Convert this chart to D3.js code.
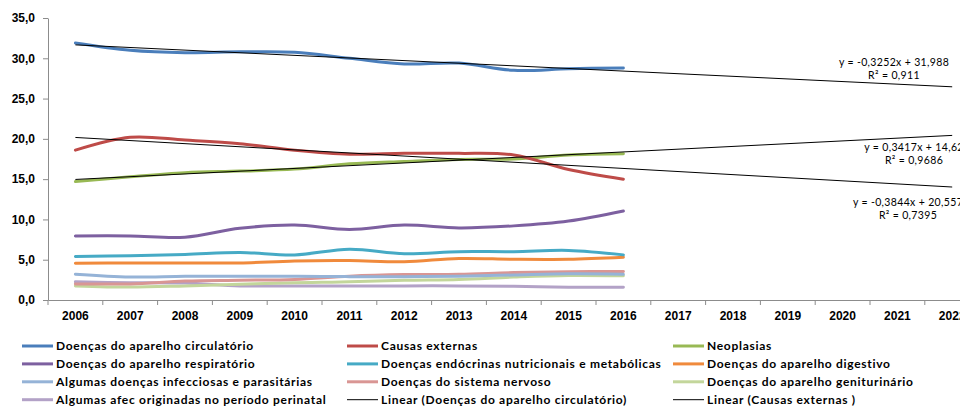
<!DOCTYPE html>
<html>
<head>
<meta charset="utf-8">
<script src="https://cdn.jsdelivr.net/npm/d3@7"></script>
<style>
    body { margin: 0; background: #fff; }
    svg { display: block; font-family: Lato, "Liberation Sans", sans-serif; }
</style>
</head>
<body>
<div id="chart-wrapper"></div>
<script>
// categories on the x axis (Excel extends them for the trend forecast)
const categories = ["2006","2007","2008","2009","2010","2011","2012","2013","2014","2015","2016",
                    "2017","2018","2019","2020","2021","2022"];
const dataYears = ["2006","2007","2008","2009","2010","2011","2012","2013","2014","2015","2016"];
const yTicks = [0, 5, 10, 15, 20, 25, 30, 35];

// series values
const circulatorio = [31.9, 31.0, 30.7, 30.8, 30.75, 30.0, 29.3, 29.4, 28.5, 28.7, 28.8];
const causasExternas = [18.6, 20.2, 19.85, 19.4, 18.6, 18.1, 18.2, 18.2, 18.0, 16.2, 15.0];
const neoplasias = [14.7, 15.3, 15.8, 16.0, 16.25, 16.9, 17.2, 17.45, 17.5, 18.0, 18.15];
const respiratorio = [7.95, 7.95, 7.8, 8.9, 9.3, 8.75, 9.3, 8.95, 9.2, 9.8, 11.05];
const endocrinas = [5.4, 5.5, 5.65, 5.9, 5.6, 6.3, 5.75, 6.0, 6.0, 6.15, 5.6];
const digestivo = [4.55, 4.6, 4.6, 4.6, 4.85, 4.9, 4.75, 5.15, 5.05, 5.05, 5.3];
const infecciosas = [3.2, 2.85, 2.95, 2.95, 2.95, 2.9, 2.9, 2.95, 3.1, 3.25, 3.2];
const nervoso = [2.0, 2.0, 2.35, 2.45, 2.55, 2.95, 3.15, 3.2, 3.4, 3.5, 3.55];
const geniturinario = [1.75, 1.6, 1.75, 1.95, 2.15, 2.25, 2.45, 2.55, 2.85, 3.05, 3.0];
const perinatal = [2.25, 2.15, 2.1, 1.75, 1.75, 1.75, 1.75, 1.75, 1.7, 1.58, 1.58];

const seriesNames = [
    "Doenças do aparelho circulatório", "Causas externas", "Neoplasias",
    "Doenças do aparelho respiratório", "Doenças endócrinas nutricionais  e metabólicas", "Doenças do aparelho digestivo",
    "Algumas doenças infecciosas e parasitárias", "Doenças do sistema nervoso", "Doenças do aparelho geniturinário",
    "Algumas afec originadas no período perinatal"
];
const seriesValues = [circulatorio, causasExternas, neoplasias, respiratorio, endocrinas,
                      digestivo, infecciosas, nervoso, geniturinario, perinatal];
const seriesColors = ["#4a7ebb", "#be4b48", "#98b954", "#7d60a0", "#46aac5",
                      "#f08a3c", "#95b3d7", "#d99694", "#c3d69b", "#b3a2c7"];

// linear trend lines (x = 1 .. 17)
const trendSlopes = [-0.3252, 0.3417, -0.3844];
const trendIntercepts = [31.988, 14.62, 20.557];
const trendEquations = ["y = -0,3252x + 31,988", "y = 0,3417x + 14,62", "y = -0,3844x + 20,557"];
const trendR2 = ["R² = 0,911", "R² = 0,9686", "R² = 0,7395"];
const legendTrendNames = ["Linear (Doenças do aparelho circulatório)", "Linear (Causas externas )"];

const width = 960, height = 412;
const margin = { left: 48, top: 18, bottom: 300 };
const step = 54.8;

const svg = d3.select("#chart-wrapper").append("svg")
    .attr("width", width).attr("height", height);

const x = d3.scaleBand().domain(categories)
    .range([margin.left, margin.left + step * categories.length]);
const y = d3.scaleLinear().domain([0, 35]).range([margin.bottom, margin.top]);

// y axis
const yAxis = svg.append("g").attr("transform", `translate(${margin.left},0)`)
    .call(d3.axisLeft(y).tickValues(yTicks).tickSize(5).tickSizeOuter(0).tickPadding(8)
        .tickFormat(d => d.toFixed(1).replace(".", ",")));
yAxis.selectAll("path, line").attr("stroke", "#8c8c8c");
yAxis.selectAll("text").attr("font-size", 12).attr("font-weight", "bold").attr("fill", "#000");

// x axis
const xAxis = svg.append("g").attr("transform", `translate(0,${margin.bottom})`)
    .call(d3.axisBottom(x).tickSize(0).tickPadding(11));
xAxis.select("path").attr("stroke", "#8c8c8c");
xAxis.selectAll("text").attr("font-size", 12).attr("font-weight", "bold").attr("fill", "#000");
xAxis.selectAll(".sep").data(categories.concat(["end"])).join("line")
    .attr("class", "sep")
    .attr("x1", (d, i) => x.range()[0] + i * x.step())
    .attr("x2", (d, i) => x.range()[0] + i * x.step())
    .attr("y1", 0).attr("y2", 5)
    .attr("stroke", "#8c8c8c");

// series lines
const line = d3.line()
    .x((d, i) => x(dataYears[i]) + x.bandwidth() / 2)
    .y(d => y(d))
    .curve(d3.curveCatmullRom.alpha(0.5));

svg.append("g").selectAll("path").data(seriesValues.slice().reverse()).join("path")
    .attr("d", d => line(d))
    .attr("fill", "none")
    .attr("stroke", (d, i) => seriesColors[seriesValues.length - 1 - i])
    .attr("stroke-width", 3)
    .attr("stroke-linejoin", "round")
    .attr("stroke-linecap", "round");

// trend lines
const trendGroup = svg.append("g");
trendSlopes.forEach((s, k) => {
    const first = 1, last = categories.length;
    trendGroup.append("line")
        .attr("x1", x(categories[first - 1]) + x.bandwidth() / 2)
        .attr("y1", y(s * first + trendIntercepts[k]))
        .attr("x2", x(categories[last - 1]) + x.bandwidth() / 2)
        .attr("y2", y(s * last + trendIntercepts[k]))
        .attr("stroke", "#000").attr("stroke-width", 1);
});

// equation labels
const eqPos = [[894, 66], [914, 151], [908, 206]];
eqPos.forEach((p, k) => {
    const t = svg.append("text").attr("font-size", 10.5).attr("letter-spacing", 0.35)
        .attr("text-anchor", "middle").attr("fill", "#000");
    t.append("tspan").attr("x", p[0]).attr("y", p[1]).text(trendEquations[k]);
    t.append("tspan").attr("x", p[0]).attr("y", p[1] + 12.5).text(trendR2[k]);
});

// legend
const legendItems = seriesNames.map((n, i) => ({ name: n, color: seriesColors[i], w: 3 }))
    .concat(legendTrendNames.map(n => ({ name: n, color: "#000", w: 1 })));
const colX = [22, 347, 673];
const legend = svg.append("g");
legendItems.forEach((d, i) => {
    const cx = colX[i % 3], cy = 346 + Math.floor(i / 3) * 17.9;
    legend.append("line").attr("x1", cx).attr("x2", cx + 31).attr("y1", cy).attr("y2", cy)
        .attr("stroke", d.color).attr("stroke-width", d.w);
    legend.append("text").attr("x", cx + 34).attr("y", cy).attr("dy", "0.35em")
        .attr("font-size", 12).attr("font-weight", "bold").attr("letter-spacing", 0.7)
        .attr("fill", "#000")
        .text(d.name);
});
</script>
</body>
</html>
